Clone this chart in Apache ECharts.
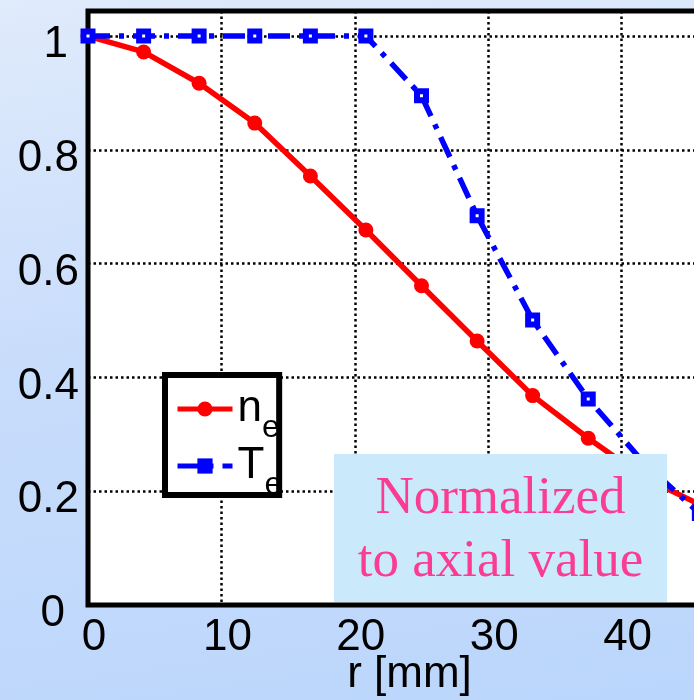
<!DOCTYPE html>
<html>
<head>
<meta charset="utf-8">
<script src="https://cdn.jsdelivr.net/npm/echarts@6/dist/echarts.min.js"></script>
<style>
html,body{margin:0;padding:0;}
#c{width:694px;height:700px;background:linear-gradient(172deg,#e0ebfb 0%,#c9ddfb 45%,#bbd6fc 100%);}
</style>
</head>
<body>
<div id="c"></div>
<script>
// radius [mm]
const rValues = [0, 4.17, 8.33, 12.5, 16.67, 20.83, 25, 29.17, 33.33, 37.5, 41.67, 45.83];
// normalized electron density
const neValues = [1.0, 0.972, 0.917, 0.847, 0.754, 0.659, 0.561, 0.464, 0.368, 0.293, 0.224, 0.177];
// normalized electron temperature
const teValues = [1.0, 1.0, 1.0, 1.0, 1.0, 1.0, 0.895, 0.684, 0.501, 0.362, 0.25, 0.161];
const xTickValues = [0, 10, 20, 30, 40];
const yTickLabels = ['0', '0.2', '0.4', '0.6', '0.8', '1'];
const boxLines = ['Normalized', 'to axial value'];

const chart = echarts.init(document.getElementById('c'), null, {renderer: 'canvas'});
const F = '"Liberation Sans", Arial, sans-serif';

const option = {
  animation: false,
  backgroundColor: 'transparent',
  grid: {
    left: 88, top: 11, width: 667, height: 594,
    outerBoundsMode: 'none', containLabel: false,
    show: true, backgroundColor: '#ffffff',
    borderColor: '#000000', borderWidth: 5
  },
  xAxis: {
    type: 'value', min: 0, max: 50, interval: 10,
    axisLine: {show: false}, axisTick: {show: false},
    splitLine: {show: true, lineStyle: {color: '#000', width: 2.5, type: [2.5, 3]}},
    axisLabel: {
      margin: 11, color: '#000', fontSize: 44, fontFamily: F,
      padding: [0, 0, 0, 12],
      formatter: v => xTickValues.indexOf(v) >= 0 ? String(v) : ''
    },
    name: 'r [mm]', nameLocation: 'middle', nameGap: 48, nameMoveOverlap: false,
    nameTextStyle: {color: '#000', fontSize: 44, fontFamily: F, padding: [0, 24, 0, 0]}
  },
  yAxis: {
    type: 'value', min: 0, max: 1.044, interval: 0.2,
    axisLine: {show: false}, axisTick: {show: false},
    splitLine: {show: true, lineStyle: {color: '#000', width: 2.5, type: [2.5, 3]}},
    axisLabel: {
      margin: 9, showMaxLabel: false,
      formatter: v => {
        const i = Math.round(v / 0.2);
        if (Math.abs(v - i * 0.2) > 1e-6 || i > 5) return '';
        const t = yTickLabels[i];
        if (i === 0) return '{z|' + t + '}';
        if (i === 5) return '{o|' + t + '}';
        return '{a|' + t + '}';
      },
      rich: {
        a: {fontSize: 44, fontFamily: F, color: '#000', padding: [18, 0, 0, 0]},
        z: {fontSize: 44, fontFamily: F, color: '#000', padding: [18, 14, 0, 0]},
        o: {fontSize: 44, fontFamily: F, color: '#000', padding: [18, 11, 0, 0]}
      }
    }
  },
  legend: {
    orient: 'vertical', left: 165, top: 375,
    padding: [-1, -3, -6, 10],
    itemWidth: 55, itemHeight: 19, itemGap: -13,
    backgroundColor: '#ffffff', borderColor: '#000000', borderWidth: 6, borderRadius: 0,
    selectedMode: false,
    lineStyle: {width: 5},
    data: [
      {name: 'ne', itemStyle: {color: '#ff0000', borderWidth: 0}},
      {name: 'Te', itemStyle: {color: '#0000ff', borderWidth: 0}}
    ],
    formatter: name => name === 'ne' ? '{m|n}{s|e}' : '{m|T}{s|e}',
    textStyle: {
      color: '#000',
      rich: {
        m: {fontSize: 44, fontFamily: F, color: '#000', lineHeight: 44},
        s: {fontSize: 32, fontFamily: F, color: '#000', lineHeight: 44, padding: [38, 0, 0, 0]}
      }
    }
  },
  series: [
    {
      name: 'ne', type: 'line',
      data: rValues.map((r, i) => [r, neValues[i]]),
      symbol: 'circle', symbolSize: 15,
      itemStyle: {color: '#ff0000'},
      lineStyle: {color: '#ff0000', width: 5.5},
      z: 3
    },
    {
      name: 'Te', type: 'line',
      data: rValues.map((r, i) => [r, teValues[i]]),
      symbol: 'rect', symbolSize: 9,
      itemStyle: {color: '#ffffff', borderColor: '#0000ff', borderWidth: 6},
      lineStyle: {color: '#0000ff', width: 5.5, type: [22, 9, 5, 9]},
      z: 4
    }
  ],
  graphic: [
    {
      type: 'rect', z: 50,
      shape: {x: 334, y: 454, width: 333, height: 148},
      style: {fill: '#caeafc'}
    },
    {
      type: 'text', z: 51,
      x: 500.5, y: 531,
      style: {
        text: boxLines.join('\n'),
        font: '53px "Liberation Serif", "Times New Roman", serif',
        lineHeight: 63,
        fill: '#fa3c92',
        align: 'center', verticalAlign: 'middle'
      }
    }
  ]
};
chart.setOption(option);
</script>
</body>
</html>
